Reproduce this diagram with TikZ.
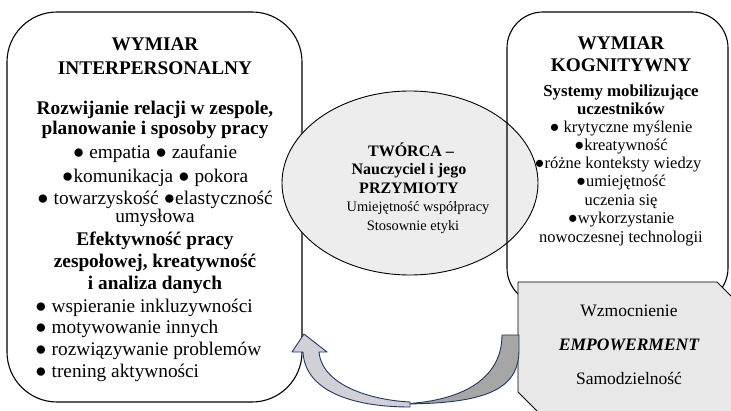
\documentclass[tikz,border=0pt]{standalone}
\usepackage{fontspec}
\setmainfont{Liberation Serif}
\definecolor{ellfill}{HTML}{EDEDED}
\definecolor{snipfill}{HTML}{E8E8E8}
\definecolor{arrowlight}{HTML}{D0D0D6}
\definecolor{arrowdark}{HTML}{A6A6A6}
\definecolor{arrowline}{HTML}{1F3864}
\newcommand{\setfs}[2]{\fontsize{#1}{#2}\selectfont}
\tikzset{
  boxline/.style={draw=black, line width=1.1pt},
  txt/.style={inner sep=0pt, anchor=base},
  ltxt/.style={inner sep=0pt, anchor=base west},
  lbig/.style={font=\setfs{19.3}{22}},
  lbigb/.style={font=\setfs{19.3}{22}\bfseries},
  rtitle/.style={font=\setfs{19.3}{22}\bfseries},
  rsub/.style={font=\setfs{16.8}{19}\bfseries},
  rnorm/.style={font=\setfs{16.5}{19}},
  ebold/.style={font=\setfs{16}{19}\bfseries},
  enorm/.style={font=\setfs{14.4}{17}},
  gnorm/.style={font=\setfs{17.5}{20}},
  gbi/.style={font=\setfs{17.5}{20}\bfseries\itshape},
  arrowpart/.style={draw=arrowline, line width=0.9pt, line join=round}
}
\begin{document}
\begin{tikzpicture}[x=1pt,y=-1pt]
\useasboundingbox (0,0) rectangle (731,411);
\clip (0,0) rectangle (731,411);
\fill[white] (0,0) rectangle (731,411);
% left box
\draw[boxline, fill=white, rounded corners=50pt] (7,12) rectangle (302,402);
% ellipse
\draw[fill=ellfill, line width=0.9pt] (410,183) ellipse [x radius=128, y radius=92];
% right box (border only)
\draw[boxline, rounded corners=36pt] (507,12) rectangle (728,304);
% snip shape
\draw[fill=snipfill, line width=0.9pt] (518,282) -- (717,282) -- (760,325) -- (760,440) -- (566,440) -- (518,392) -- cycle;
% curved arrow
\draw[arrowpart, fill=arrowdark] (502,335) -- (519,335) -- (519,350)
   .. controls (519,390) and (485,404) .. (400,404)
   .. controls (460,402) and (502,380) .. (502,335) -- cycle;
\draw[arrowpart, fill=arrowlight] (410,402) .. controls (370,400) and (322,385) .. (319,352)
   -- (327,352) -- (304,334) -- (292,352) -- (303,352)
   .. controls (305,390) and (350,407) .. (410,407) -- cycle;
% left texts
\node[txt, lbigb] (l1) at (155,51) {WYMIAR};
\node[txt, lbigb] (l2) at (155,74.5) {INTERPERSONALNY};
\node[txt, lbigb] (l3) at (155,115) {Rozwijanie relacji w zespole,};
\node[txt, lbigb] (l4) at (155,135) {planowanie i sposoby pracy};
\node[txt, lbig] (l5) at (155,159) {● empatia ● zaufanie};
\node[txt, lbig] (l6) at (155,183) {●komunikacja ● pokora};
\node[txt, lbig] (l7) at (155,205) {● towarzyskość ●elastyczność};
\node[txt, lbig] (l8) at (155,223) {umysłowa};
\node[txt, lbigb] (l9) at (155,246) {Efektywność pracy};
\node[txt, lbigb] (l10) at (155,268) {zespołowej, kreatywność};
\node[txt, lbigb] (l11) at (155,290) {i analiza danych};
\node[ltxt, lbig] (l12) at (35,312.5) {● wspieranie inkluzywności};
\node[ltxt, lbig] (l13) at (35,334) {● motywowanie innych};
\node[ltxt, lbig] (l14) at (35,356) {● rozwiązywanie problemów};
\node[ltxt, lbig] (l15) at (35,378) {● trening aktywności};
% right texts
\node[txt, rtitle] (r1) at (621,50) {WYMIAR};
\node[txt, rtitle] (r2) at (621,72) {KOGNITYWNY};
\node[txt, rsub] (r3) at (621,97) {Systemy mobilizujące};
\node[txt, rsub] (r4) at (621,115) {uczestników};
\node[txt, rnorm] (r5) at (621,133) {● krytyczne myślenie};
\node[txt, rnorm] (r6) at (621,151) {●kreatywność};
\node[txt, rnorm] (r7) at (618,169) {●różne konteksty wiedzy};
\node[txt, rnorm] (r8) at (621,187) {●umiejętność};
\node[txt, rnorm] (r9) at (621,206) {uczenia się};
\node[txt, rnorm] (r10) at (621,224) {●wykorzystanie};
\node[txt, rnorm] (r11) at (621,243) {nowoczesnej technologii};
% ellipse texts
\node[txt, ebold] (e1) at (411,157) {TWÓRCA –};
\node[txt, ebold] (e2) at (409,175) {Nauczyciel i jego};
\node[txt, ebold] (e3) at (409,194) {PRZYMIOTY};
\node[txt, enorm] (e4) at (418,212) {Umiejętność współpracy};
\node[txt, enorm] (e5) at (413,231) {Stosownie etyki};
% snip texts
\node[txt, gnorm] (g1) at (629,317) {Wzmocnienie};
\node[txt, gbi] (g2) at (629,351) {EMPOWERMENT};
\node[txt, gnorm] (g3) at (629,385) {Samodzielność};
\end{tikzpicture}
\end{document}
